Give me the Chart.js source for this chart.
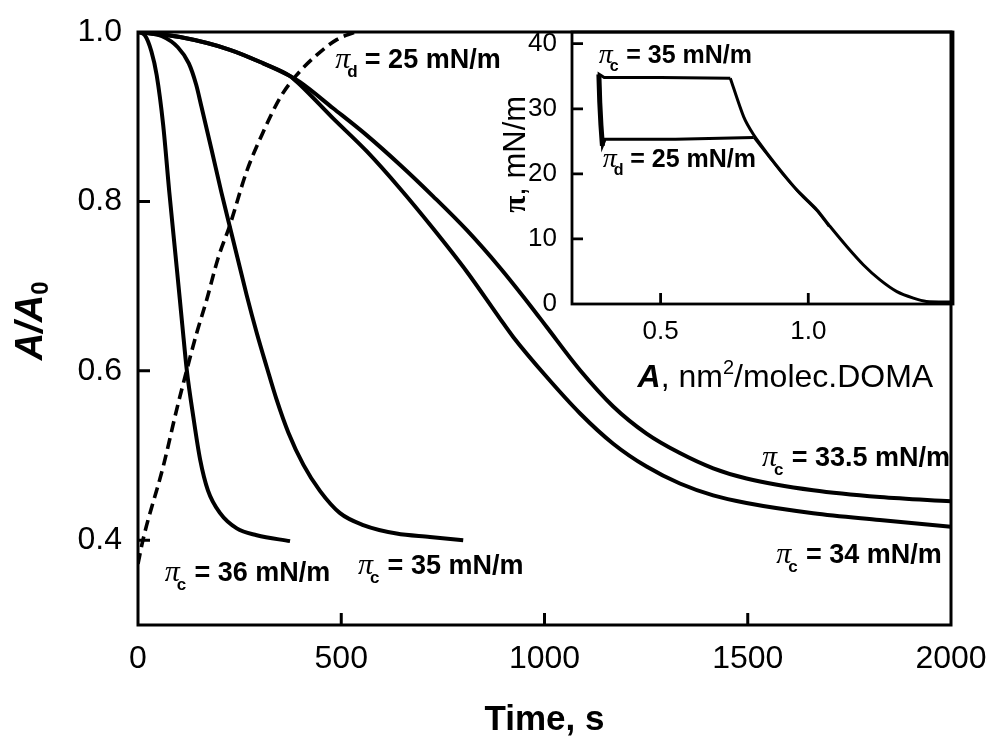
<!DOCTYPE html>
<html>
<head>
<meta charset="utf-8">
<script src="https://cdn.jsdelivr.net/npm/chart.js@4.4.1/dist/chart.umd.min.js"></script>
<style>
  html, body { margin: 0; padding: 0; background: #fff; }
  #wrap { position: relative; width: 989px; height: 736px; }
  #main { position: absolute; left: 0; top: 0; }
  #inset { position: absolute; left: 480px; top: 0; }
</style>
</head>
<body>
<div id="wrap">
  <canvas id="main" width="989" height="736"></canvas>
  <canvas id="inset" width="509" height="420"></canvas>
</div>
<script>
// ---- Relaxation of A/A0 with time at constant surface pressure ----
const timeTicks = [0, 500, 1000, 1500, 2000];
const ratioTicks = [0.4, 0.6, 0.8, 1.0];

const time36  = [0, 17, 33, 46, 62, 77, 93, 103, 109, 120, 136, 153, 172, 202, 243, 292, 374];
const ratio36 = [1.000, 0.996, 0.977, 0.949, 0.890, 0.811, 0.733, 0.684, 0.654, 0.601, 0.546, 0.495, 0.459, 0.432, 0.414, 0.406, 0.399];

const time35  = [0, 59, 98, 125, 143, 156, 181, 205, 225, 245, 267, 292, 317, 341, 370, 407, 448, 497, 554, 636, 718, 800];
const ratio35 = [1.000, 0.995, 0.982, 0.963, 0.938, 0.912, 0.861, 0.811, 0.772, 0.733, 0.690, 0.645, 0.604, 0.566, 0.527, 0.489, 0.458, 0.432, 0.418, 0.408, 0.404, 0.400];

const time335  = [0, 103, 226, 308, 374, 398, 480, 563, 645, 726, 809, 890, 970, 1005, 1087, 1169, 1251, 1333, 1415, 1497, 1661, 1825, 2000];
const ratio335 = [1.000, 0.994, 0.979, 0.963, 0.948, 0.941, 0.910, 0.878, 0.843, 0.806, 0.766, 0.722, 0.674, 0.652, 0.601, 0.558, 0.526, 0.503, 0.485, 0.473, 0.459, 0.451, 0.446];

const time34  = [0, 103, 226, 308, 374, 398, 480, 563, 645, 726, 809, 890, 923, 1005, 1087, 1169, 1251, 1333, 1415, 1497, 1661, 1825, 2000];
const ratio34 = [1.000, 0.994, 0.979, 0.963, 0.948, 0.938, 0.898, 0.859, 0.815, 0.768, 0.717, 0.662, 0.640, 0.593, 0.550, 0.514, 0.487, 0.467, 0.453, 0.444, 0.432, 0.424, 0.416];

// decompression at pi_d = 25 mN/m
const time25d  = [0, 12, 62, 95, 120, 144, 169, 197, 226, 267, 308, 349, 390, 440, 489, 534];
const ratio25d = [0.372, 0.400, 0.487, 0.554, 0.601, 0.644, 0.684, 0.733, 0.772, 0.835, 0.882, 0.922, 0.949, 0.973, 0.991, 1.000];

// ---- Inset: pi-A isotherm with the compression / decompression loop ----
const areaTicks = [0.5, 1.0];
const pressureTicks = [0, 10, 20, 30, 40];

const isoArea     = [1.49, 1.40, 1.356, 1.30, 1.243, 1.187, 1.131, 1.074, 1.029, 0.962, 0.91, 0.86, 0.815, 0.781, 0.736];
const isoPressure = [0.3, 0.4, 0.9, 1.9, 3.7, 6.0, 8.8, 11.9, 14.5, 17.5, 20.3, 23.2, 26.0, 28.8, 34.7];

const loopArea     = [0.736, 0.50, 0.309, 0.292, 0.296, 0.303, 0.312, 0.55, 0.815];
const loopPressure = [34.7, 34.8, 34.8, 35.3, 29.5, 24.3, 25.3, 25.3, 25.6];

const stepArea     = [0.291, 0.294, 0.298, 0.303];
const stepPressure = [35.3, 31.0, 27.5, 24.3];

const returnArea     = [0.815, 0.862, 0.912, 0.972, 1.035, 1.07];
const returnPressure = [25.6, 22.9, 20.0, 16.9, 14.0, 11.9];

const mainLabels = [
  { sub: 'd', text: '= 25 mN/m',   t: 485,  r: 0.9575 },
  { sub: 'c', text: '= 36 mN/m',   t: 66,   r: 0.352 },
  { sub: 'c', text: '= 35 mN/m',   t: 541,  r: 0.360 },
  { sub: 'c', text: '= 33.5 mN/m', t: 1535, r: 0.4876 },
  { sub: 'c', text: '= 34 mN/m',   t: 1570, r: 0.373 }
];
const insetLabels = [
  { sub: 'c', text: '= 35 mN/m', a: 0.2905, p: 37.1 },
  { sub: 'd', text: '= 25 mN/m', a: 0.304,  p: 21.1 }
];

const SANS = '"Liberation Sans", Arial, Helvetica, sans-serif';
const SERIF = '"Liberation Serif", "Times New Roman", serif';

const pts = (xs, ys) => xs.map((x, i) => ({ x: x, y: ys[i] }));

function curve(data, extra) {
  return Object.assign({
    data: data, showLine: true, borderColor: '#000', borderWidth: 4,
    pointRadius: 0, fill: false, cubicInterpolationMode: 'monotone'
  }, extra || {});
}

function drawPiLabel(ctx, x, y, sub, rest, size) {
  ctx.save();
  ctx.fillStyle = '#000';
  ctx.textAlign = 'left';
  ctx.textBaseline = 'alphabetic';
  ctx.font = 'italic ' + Math.round(size * 1.12) + 'px ' + SERIF;
  ctx.fillText('\u03C0', x, y);
  const pw = ctx.measureText('\u03C0').width;
  ctx.font = 'bold ' + Math.round(size * 0.62) + 'px ' + SANS;
  ctx.fillText(sub, x + pw - 3, y + size * 0.34);
  ctx.font = 'bold ' + size + 'px ' + SANS;
  ctx.fillText(rest, x + size * 1.1, y);
  ctx.restore();
}

// text made of runs with their own fonts; dy shifts a run off the baseline
function drawRuns(ctx, runs, x, y, center) {
  ctx.save();
  ctx.fillStyle = '#000';
  ctx.textAlign = 'left';
  ctx.textBaseline = 'alphabetic';
  let total = 0;
  runs.forEach(r => { ctx.font = r.font; total += ctx.measureText(r.text).width; });
  let cx = center ? x - total / 2 : x;
  runs.forEach(r => {
    ctx.font = r.font;
    ctx.fillText(r.text, cx, y + (r.dy || 0));
    cx += ctx.measureText(r.text).width;
  });
  ctx.restore();
}

// box around the plot area and inward tick marks
function framePlugin(lineWidth, tickLen) {
  return {
    id: 'frame',
    afterDatasetsDraw(chart) {
      const { ctx, chartArea: a, scales } = chart;
      ctx.save();
      ctx.strokeStyle = '#000';
      ctx.lineWidth = lineWidth;
      ctx.strokeRect(a.left, a.top, a.right - a.left, a.bottom - a.top);
      ctx.beginPath();
      scales.x.ticks.forEach(t => {
        const px = scales.x.getPixelForValue(t.value);
        if (px > a.left + 2 && px < a.right - 2) { ctx.moveTo(px, a.bottom); ctx.lineTo(px, a.bottom - tickLen); }
      });
      scales.y.ticks.forEach(t => {
        const py = scales.y.getPixelForValue(t.value);
        if (py > a.top + 2 && py < a.bottom - 2) { ctx.moveTo(a.left, py); ctx.lineTo(a.left + tickLen, py); }
      });
      ctx.stroke();
      ctx.restore();
    }
  };
}

function axisScale(min, max, ticks, size, fmt, pad, fit) {
  return {
    type: 'linear', min: min, max: max,
    afterFit(s) {
      fit(s);
      s.paddingLeft = 0; s.paddingRight = 0; s.paddingTop = 0; s.paddingBottom = 0;
    },
    afterBuildTicks(s) { s.ticks = ticks.map(v => ({ value: v })); },
    grid: { display: false, drawTicks: false },
    border: { display: false },
    ticks: { padding: pad, autoSkip: false, maxRotation: 0, color: '#000',
             font: { family: SANS, size: size }, callback: fmt }
  };
}

const mainNotes = {
  id: 'mainNotes',
  afterDatasetsDraw(chart) {
    const { ctx, chartArea: a, scales: { x, y } } = chart;
    mainLabels.forEach(l => drawPiLabel(ctx, x.getPixelForValue(l.t), y.getPixelForValue(l.r), l.sub, l.text, 27));
    // axis titles
    ctx.save();
    ctx.fillStyle = '#000';
    ctx.font = 'bold 35px ' + SANS;
    ctx.textAlign = 'center';
    ctx.textBaseline = 'alphabetic';
    ctx.fillText('Time, s', (a.left + a.right) / 2, a.bottom + 105);
    ctx.translate(a.left - 96, y.getPixelForValue(0.659));
    ctx.rotate(-Math.PI / 2);
    drawRuns(ctx, [
      { text: 'A/A', font: 'italic bold 38px ' + SANS },
      { text: '0', font: 'bold 24px ' + SANS, dy: 6 }
    ], 0, 0, true);
    ctx.restore();
  }
};

const insetNotes = {
  id: 'insetNotes',
  afterDatasetsDraw(chart) {
    const { ctx, chartArea: a, scales: { x, y } } = chart;
    insetLabels.forEach(l => drawPiLabel(ctx, x.getPixelForValue(l.a), y.getPixelForValue(l.p), l.sub, l.text, 25));
    drawRuns(ctx, [
      { text: 'A', font: 'italic bold 32px ' + SANS },
      { text: ', nm', font: '32px ' + SANS },
      { text: '2', font: '20px ' + SANS, dy: -13 },
      { text: '/molec.DOMA', font: '32px ' + SANS }
    ], x.getPixelForValue(0.422), a.bottom + 83, false);
    ctx.save();
    ctx.translate(a.left - 47, y.getPixelForValue(23));
    ctx.rotate(-Math.PI / 2);
    drawRuns(ctx, [
      { text: '\u03C0', font: 'bold 31px ' + SERIF },
      { text: ', mN/m', font: '31px ' + SANS }
    ], 0, 0, true);
    ctx.restore();
  }
};

new Chart(document.getElementById('main'), {
  type: 'scatter',
  data: {
    datasets: [
      curve(pts(time36, ratio36)),
      curve(pts(time35, ratio35)),
      curve(pts(time335, ratio335)),
      curve(pts(time34, ratio34)),
      curve(pts(time25d, ratio25d), { borderWidth: 3.6, borderDash: [11, 6] })
    ]
  },
  options: {
    responsive: false, animation: false, devicePixelRatio: 1,
    layout: { padding: { top: 32, right: 38, left: 0, bottom: 0 } },
    plugins: { legend: { display: false }, tooltip: { enabled: false } },
    scales: {
      x: axisScale(0, 2000, timeTicks, 32, v => String(v), 15, s => { s.height = 111; }),
      y: axisScale(0.3, 1.0, ratioTicks, 32, v => Number(v).toFixed(1), 16, s => { s.width = 138; })
    }
  },
  plugins: [framePlugin(3, 12), mainNotes]
});

new Chart(document.getElementById('inset'), {
  type: 'scatter',
  data: {
    datasets: [
      curve(pts(isoArea, isoPressure), { borderWidth: 3, cubicInterpolationMode: 'default', tension: 0.25 }),
      curve(pts(loopArea, loopPressure), { borderWidth: 3, cubicInterpolationMode: 'default', tension: 0 }),
      curve(pts(stepArea, stepPressure), { borderWidth: 5, cubicInterpolationMode: 'default', tension: 0 }),
      curve(pts(returnArea, returnPressure), { borderWidth: 2.2, cubicInterpolationMode: 'default', tension: 0.25 })
    ]
  },
  options: {
    responsive: false, animation: false, devicePixelRatio: 1,
    layout: { padding: { top: 32, right: 36, left: 0, bottom: 0 } },
    plugins: { legend: { display: false }, tooltip: { enabled: false } },
    scales: {
      x: axisScale(0.2, 1.49, areaTicks, 26, v => Number(v).toFixed(1), 12, s => { s.height = 116; }),
      y: axisScale(0, 41.8, pressureTicks, 26, v => String(v), 15, s => { s.width = 92; })
    }
  },
  plugins: [framePlugin(2.8, 11), insetNotes]
});
</script>
</body>
</html>
